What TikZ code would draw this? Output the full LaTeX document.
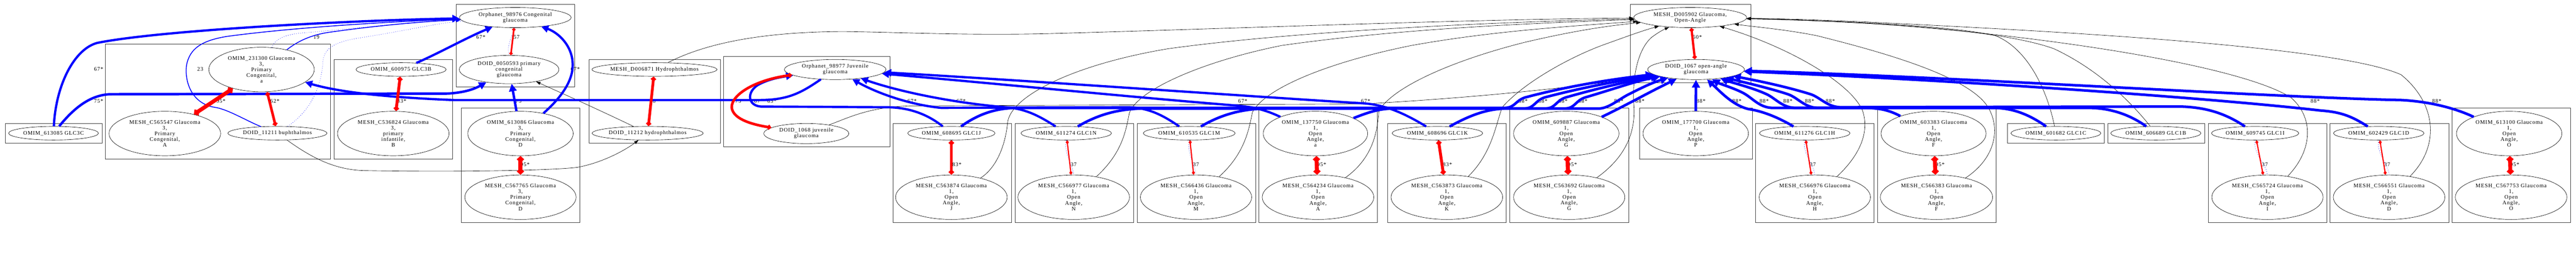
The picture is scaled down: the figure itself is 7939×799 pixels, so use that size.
\documentclass[tikz,border=0pt]{standalone}
\usepackage{fontspec}
\setmainfont{Liberation Serif}[LetterSpace=8.6]
\usetikzlibrary{shapes.geometric,arrows.meta}
\newcommand{\gfont}{\fontsize{16.9bp}{17.5bp}\selectfont}
\newcommand{\oag}[2]{#1 Glaucoma\\1,\\Open\\Angle,\\#2}
\newcommand{\pcg}[2]{#1 Glaucoma\\3,\\Primary\\Congenital,\\#2}

\begin{document}
\begin{tikzpicture}[x=1bp, y=-1bp,
    every node/.style={font=\gfont},
    term/.style 2 args={ellipse, draw, line width=1bp, inner sep=0pt, minimum width=#1 bp, minimum height=#2 bp, align=center},
    clus/.style={draw=black!75, line width=1bp},
    isa/.style={draw=blue, line width=#1 bp, arrows={-Triangle[length=8bp 2,width=8bp 2]}},
    alt/.style={draw=blue, line width=1bp, dash pattern=on 1.5bp off 5bp},
    same/.style={draw=red, line width=#1 bp, arrows={Diamond[length=4bp 1.4,width=4bp 1.6]-Diamond[length=4bp 1.4,width=4bp 1.6]}},
    weak/.style={draw=red, line width=3.5bp, arrows={Diamond[open,length=13bp,width=10bp]-Diamond[open,length=13bp,width=10bp]}},
    xref/.style={draw=black, line width=1bp, arrows={-Triangle[length=14bp,width=9bp]}}]
    \useasboundingbox (0,0) rectangle (7939,799);

    \foreach \xa/\ya/\xb/\yb in {16/380/315/441, 325/136/1019/489, 1029/183/1395/489, 1405/13/1771/268,
        1421/333/1787/685, 1815/183/2220/441, 2230/173/2742/452, 2752/380/3117/685, 3128/380/3493/685,
        3504/380/3870/685, 3879/333/4245/685, 4277/380/4642/685, 4653/333/5019/685, 5024/13/5395/255,
        5053/333/5400/489, 5410/380/5776/685, 5786/333/6152/685, 6187/380/6485/441, 6496/380/6795/441,
        6805/380/7171/685, 7181/380/7547/685, 7557/333/7922/685} {
        \draw[clus] (\xa,\ya) rectangle (\xb,\yb);
    }

    \node[term={277}{42}] (n613085) at (165,410) {OMIM\_613085 GLC3C};
    \node[term={344}{137}] (mC565547) at (508,411) {\pcg{MESH\_C565547}{A}};
    \node[term={325}{137}] (o231300) at (806,214) {\pcg{OMIM\_231300}{a}};
    \node[term={305}{42}] (d11211) at (855,410) {DOID\_11211 buphthalmos};
    \node[term={278}{42}] (o600975) at (1236,214) {OMIM\_600975 GLC3B};
    \node[term={344}{137}] (mC536824) at (1212,411) {MESH\_C536824 Glaucoma\\3,\\primary\\infantile,\\B};
    \node[term={344}{62}] (orph98976) at (1588,54) {Orphanet\_98976 Congenital\\glaucoma};
    \node[term={307}{87}] (d0050593) at (1569,214) {DOID\_0050593 primary\\congenital\\glaucoma};
    \node[term={325}{137}] (o613086) at (1604,411) {\pcg{OMIM\_613086}{D}};
    \node[term={343}{137}] (mC567765) at (1604,607) {\pcg{MESH\_C567765}{D}};
    \node[term={384}{42}] (mD006871) at (2017,214) {MESH\_D006871 Hydrophthalmos};
    \node[term={342}{42}] (d11212) at (1996,410) {DOID\_11212 hydrophthalmos};
    \node[term={313}{62}] (orph98977) at (2574,214) {Orphanet\_98977 Juvenile\\glaucoma};
    \node[term={262}{62}] (d1068) at (2485,411) {DOID\_1068 juvenile\\glaucoma};
    \node[term={269}{42}] (o608695) at (2932,410) {OMIM\_608695 GLC1J};
    \node[term={344}{137}] (mC563874) at (2932,607) {\oag{MESH\_C563874}{J}};
    \node[term={279}{42}] (o611274) at (3286,410) {OMIM\_611274 GLC1N};
    \node[term={344}{137}] (mC566977) at (3309,607) {\oag{MESH\_C566977}{N}};
    \node[term={283}{42}] (o610535) at (3665,410) {OMIM\_610535 GLC1M};
    \node[term={343}{137}] (mC566436) at (3686,607) {\oag{MESH\_C566436}{M}};
    \node[term={322}{137}] (o137750) at (4054,411) {\oag{OMIM\_137750}{a}};
    \node[term={344}{137}] (mC564234) at (4062,607) {\oag{MESH\_C564234}{A}};
    \node[term={279}{42}] (o608696) at (4430,410) {OMIM\_608696 GLC1K};
    \node[term={344}{137}] (mC563873) at (4459,607) {\oag{MESH\_C563873}{K}};
    \node[term={325}{137}] (o609887) at (4827,411) {\oag{OMIM\_609887}{G}};
    \node[term={343}{137}] (mC563692) at (4836,607) {\oag{MESH\_C563692}{G}};
    \node[term={348}{62}] (mD005902) at (5209,54) {MESH\_D005902 Glaucoma,\\Open-Angle};
    \node[term={298}{62}] (d1067) at (5227,214) {DOID\_1067 open-angle\\glaucoma};
    \node[term={325}{137}] (o177700) at (5226,411) {\oag{OMIM\_177700}{P}};
    \node[term={279}{42}] (o611276) at (5562,410) {OMIM\_611276 GLC1H};
    \node[term={343}{137}] (mC566976) at (5593,607) {\oag{MESH\_C566976}{H}};
    \node[term={324}{137}] (o603383) at (5959,411) {\oag{OMIM\_603383}{F}};
    \node[term={346}{137}] (mC566383) at (5968,607) {\oag{MESH\_C566383}{F}};
    \node[term={277}{42}] (o601682) at (6336,410) {OMIM\_601682 GLC1C};
    \node[term={278}{42}] (o606689) at (6644,410) {OMIM\_606689 GLC1B};
    \node[term={269}{42}] (o609745) at (6950,410) {OMIM\_609745 GLC1I};
    \node[term={343}{137}] (mC565724) at (6988,607) {\oag{MESH\_C565724}{I}};
    \node[term={279}{42}] (o602429) at (7331,410) {OMIM\_602429 GLC1D};
    \node[term={344}{137}] (mC566551) at (7363,607) {\oag{MESH\_C566551}{D}};
    \node[term={325}{137}] (o613100) at (7733,411) {\oag{OMIM\_613100}{O}};
    \node[term={344}{137}] (mC567753) at (7739,607) {\oag{MESH\_C567753}{O}};

    \foreach \x/\y/\t [count=\i] in {304/213/67*, 304/311/75*, 617/213/23, 681/311/95*, 847/311/62*, 975/114/19,
        1238/311/83*, 1482/114/67*, 1592/114/57, 1773/213/67*, 1603/311/75*, 1618/507/95*, 2016/311/88*,
        2280/311/75*, 2338/311/67*, 2379/311/65*, 2811/311/67*, 2962/311/67*, 2949/507/83*, 3309/507/37,
        3686/507/37, 3830/311/67*, 4073/507/95*, 4209/311/67*, 4461/507/83*, 4694/311/88*, 4755/311/88*,
        4817/311/88*, 4878/311/88*, 4989/311/88*, 5054/311/88*, 4846/507/95*, 5231/114/60*, 5242/311/88*,
        5353/311/88*, 5437/311/88*, 5510/311/88*, 5577/311/88*, 5641/311/88*, 5587/507/37, 5979/507/95*,
        6980/507/37, 7135/311/88*, 7357/507/37, 7510/311/88*, 7750/507/95*} {
        \node (lab\i) at (\x,\y) {\t};
    }

    % black cross references
    \draw[xref] (d11211) .. controls (960,485) and (1030,522) .. (1120,525) .. controls (1400,530) and (1700,525) .. (1780,515) .. controls (1860,500) and (1930,460) .. (d11212);
    \draw[xref] (d11212) .. controls (1850,340) and (1750,295) .. (d0050593);
    \draw[xref] (mD006871) .. controls (2200,120) and (2400,98) .. (2600,97) .. controls (2800,100) and (3000,110) .. (3250,103) .. controls (3800,88) and (4500,60) .. (mD005902);
    \draw[xref] (mC563874) .. controls (3080,510) and (3100,430) .. (3105,380) .. controls (3110,300) and (3300,200) .. (3600,150) .. controls (4000,95) and (4600,68) .. (mD005902);
    \draw[xref] (mC566977) .. controls (3460,470) and (3470,400) .. (3480,350) .. controls (3500,280) and (3700,190) .. (3950,140) .. controls (4300,90) and (4700,72) .. (mD005902);
    \draw[xref] (mC566436) .. controls (3840,470) and (3850,390) .. (3860,345) .. controls (3900,270) and (4100,190) .. (4350,140) .. controls (4600,95) and (4850,80) .. (mD005902);
    \draw[xref] (mC564234) .. controls (4240,480) and (4245,390) .. (4250,340) .. controls (4300,260) and (4500,180) .. (4700,130) .. controls (4850,95) and (4950,80) .. (mD005902);
    \draw[xref] (mC563873) .. controls (4600,470) and (4610,380) .. (4630,330) .. controls (4700,250) and (4850,170) .. (4950,135) .. controls (5020,110) and (5060,95) .. (mD005902);
    \draw[xref] (mC563692) .. controls (5030,470) and (5040,380) .. (5035,320) .. controls (5030,230) and (5050,150) .. (5090,115) .. controls (5110,100) and (5125,92) .. (mD005902);
    \draw[xref] (d1068) .. controls (2620,360) and (2680,330) .. (2800,326) -- (4200,320) .. controls (4600,298) and (4900,262) .. (d1067);
    \draw[xref] (mC566976) .. controls (5740,470) and (5760,400) .. (5740,340) .. controls (5700,250) and (5500,140) .. (mD005902);
    \draw[xref] (mC566383) .. controls (6160,480) and (6165,380) .. (6120,320) .. controls (6050,230) and (5800,160) .. (5600,110) .. controls (5500,90) and (5400,82) .. (mD005902);
    \draw[xref] (mC565724) .. controls (7130,460) and (7130,360) .. (7060,300) .. controls (6900,200) and (6300,110) .. (5800,75) .. controls (5600,62) and (5450,58) .. (mD005902);
    \draw[xref] (mC566551) .. controls (7520,450) and (7510,320) .. (7400,230) .. controls (7200,140) and (6300,95) .. (5800,70) .. controls (5600,60) and (5450,57) .. (mD005902);
    \draw[xref] (o601682) .. controls (6310,280) and (6250,150) .. (6150,110) .. controls (6000,75) and (5600,62) .. (mD005902);
    \draw[xref] (o606689) .. controls (6580,330) and (6480,220) .. (6330,150) .. controls (6150,85) and (5700,65) .. (mD005902);

    % congenital side
    \draw[alt] (o231300) .. controls (850,118) and (880,104) .. (950,100) .. controls (1150,82) and (1300,64) .. (orph98976);
    \draw[alt] (d11211) .. controls (960,340) and (992,260) .. (995,190) .. controls (998,150) and (1030,130) .. (1100,118) .. controls (1250,95) and (1350,70) .. (orph98976);
    \draw[alt] (orph98976.south) .. controls +(-12,30) and +(-8,-30) .. (d0050593.north);
    \draw[isa=7] (n613085) .. controls (172,260) and (230,150) .. (300,132) .. controls (500,92) and (1100,62) .. (orph98976);
    \draw[isa=7.5] (n613085) .. controls (230,330) and (280,292) .. (340,290) -- (1380,288) .. controls (1430,285) and (1460,275) .. (d0050593);
    \draw[isa=2.5] (d11211) .. controls (760,372) and (700,335) .. (660,330) .. controls (590,318) and (568,250) .. (575,200) .. controls (585,150) and (620,125) .. (700,112) .. controls (900,85) and (1200,66) .. (orph98976);
    \draw[isa=2.5] (o231300) .. controls (920,125) and (960,108) .. (1010,100) .. controls (1150,80) and (1300,66) .. (orph98976);
    \draw[isa=7] (o600975) .. controls (1350,165) and (1440,115) .. (orph98976);
    \draw[isa=7] (o613086) .. controls (1730,300) and (1765,250) .. (1765,200) .. controls (1765,140) and (1720,100) .. (orph98976);
    \draw[isa=7.5] (o613086) -- (d0050593);
    \draw[isa=7] (orph98977) .. controls (2470,285) and (2430,308) .. (2340,308) -- (1400,308) .. controls (1200,300) and (1050,285) .. (o231300);

    % juvenile side
    \draw[isa=7] (o608695) .. controls (2850,345) and (2790,330) .. (2730,330) -- (2345,328) .. controls (2305,325) and (2300,285) .. (2335,262) .. controls (2365,245) and (2400,238) .. (orph98977);
    \draw[isa=7] (o610535) .. controls (3580,352) and (3540,333) .. (3480,330) -- (2900,332) .. controls (2800,322) and (2700,285) .. (orph98977);
    \draw[isa=7] (o611274) .. controls (3200,355) and (3160,335) .. (3100,330) .. controls (2950,318) and (2780,285) .. (orph98977);
    \draw[isa=7] (o608696) .. controls (4330,350) and (4270,322) .. (4200,318) .. controls (3900,300) and (3200,250) .. (orph98977);
    \draw[isa=7] (o137750) .. controls (3900,338) and (3860,328) .. (3800,324) .. controls (3500,300) and (3100,260) .. (orph98977);
    \draw[same=8] (orph98977) .. controls (2330,245) and (2255,290) .. (2255,330) .. controls (2258,370) and (2330,385) .. (d1068);

    % open-angle side
    \draw[isa=8] (o608695) .. controls (3010,355) and (3060,334) .. (3130,332) -- (4640,332) .. controls (4670,330) and (4670,310) .. (4700,300) .. controls (4850,260) and (5000,240) .. (d1067);
    \draw[isa=8] (o611274) .. controls (3380,355) and (3440,336) .. (3520,334) -- (4700,334) .. controls (4730,332) and (4730,310) .. (4760,300) .. controls (4880,268) and (5010,245) .. (d1067);
    \draw[isa=8] (o610535) .. controls (3760,355) and (3820,336) .. (3900,334) -- (4765,334) .. controls (4795,332) and (4795,310) .. (4825,300) .. controls (4930,270) and (5020,250) .. (d1067);
    \draw[isa=8] (o137750) .. controls (4230,340) and (4260,334) .. (4300,334) -- (4825,334) .. controls (4855,332) and (4855,310) .. (4885,300) .. controls (4980,272) and (5040,250) .. (d1067);
    \draw[isa=8] (o608696) .. controls (4530,355) and (4580,336) .. (4640,334) -- (4930,334) .. controls (4960,332) and (4990,305) .. (5020,290) .. controls (5060,270) and (5090,255) .. (d1067);
    \draw[isa=8] (o609887) .. controls (5000,330) and (5080,285) .. (d1067);
    \draw[isa=8] (o177700) -- (d1067);
    \draw[isa=8] (o611276) .. controls (5470,355) and (5420,340) .. (5390,336) .. controls (5340,325) and (5300,280) .. (d1067);
    \draw[isa=8] (o603383) .. controls (5820,338) and (5790,332) .. (5740,332) -- (5460,332) .. controls (5420,330) and (5400,300) .. (5370,285) .. controls (5340,270) and (5300,258) .. (d1067);
    \draw[isa=8] (o601682) .. controls (6250,350) and (6200,332) .. (6140,332) -- (5530,332) .. controls (5490,330) and (5470,300) .. (5440,288) .. controls (5400,270) and (5340,255) .. (d1067);
    \draw[isa=8] (o606689) .. controls (6560,350) and (6500,333) .. (6440,332) -- (5600,332) .. controls (5560,330) and (5540,300) .. (5510,290) .. controls (5450,270) and (5360,250) .. (d1067);
    \draw[isa=8] (o609745) .. controls (6860,350) and (6800,330) .. (6720,328) -- (5670,330) .. controls (5630,328) and (5610,300) .. (5580,290) .. controls (5500,265) and (5400,245) .. (d1067);
    \draw[isa=8] (o602429) .. controls (7250,360) and (7220,345) .. (7150,340) .. controls (6800,300) and (6000,245) .. (d1067);
    \draw[isa=8] (o613100) .. controls (7560,330) and (7480,312) .. (7400,308) .. controls (7000,300) and (6000,235) .. (d1067);

    % same-term links
    \foreach \a/\b/\w in {mC565547/o231300/12, o231300/d11211/8, o600975/mC536824/9, orph98976/d0050593/5,
        o613086/mC567765/12, mD006871/d11212/8.5, o608695/mC563874/9, o137750/mC564234/12,
        o608696/mC563873/9, o609887/mC563692/12, mD005902/d1067/7, o603383/mC566383/12, o613100/mC567753/12} {
        \draw[same=\w] (\a) -- (\b);
    }
    \foreach \a/\b in {o611274/mC566977, o610535/mC566436, o611276/mC566976, o609745/mC565724, o602429/mC566551} {
        \draw[alt] (\a.south) .. controls +(-8,40) and +(-6,-40) .. (\b.north);
        \draw[weak] (\a) -- (\b);
    }
\end{tikzpicture}
\end{document}
